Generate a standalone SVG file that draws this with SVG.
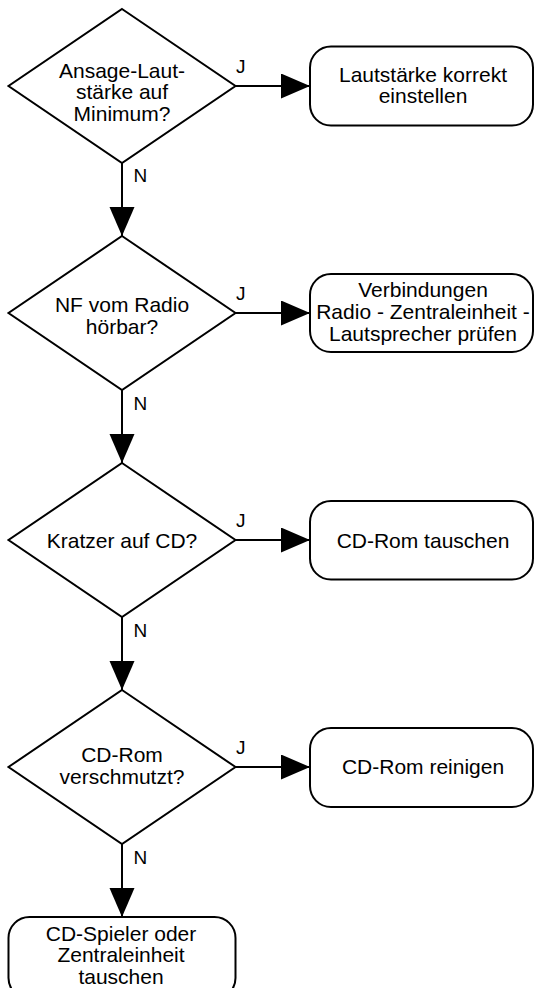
<svg xmlns="http://www.w3.org/2000/svg" width="534" height="988" viewBox="0 0 534 988">
<defs>
<style>
.shape{fill:#fff;stroke:#000;stroke-width:2;stroke-linejoin:miter}
.t{font-family:"Liberation Sans",Arial,sans-serif;font-size:21px;fill:#000;text-anchor:middle}
.lbl{font-family:"Liberation Sans",Arial,sans-serif;font-size:19px;fill:#000}
.con{stroke:#000;stroke-width:2;fill:none;marker-end:url(#ah)}
</style>
<marker id="ah" markerUnits="userSpaceOnUse" markerWidth="30" markerHeight="26" refX="29" refY="12.5" orient="auto">
<path d="M0,0 L29,12.5 L0,25 z" fill="#000"/>
</marker>
</defs>
<rect width="534" height="988" fill="#fff"/>
<g id="connectors">
<line class="con" x1="235.5" y1="86" x2="310" y2="86"/>
<line class="con" x1="235.5" y1="313" x2="310" y2="313"/>
<line class="con" x1="235.5" y1="540" x2="310" y2="540"/>
<line class="con" x1="235.5" y1="767" x2="310" y2="767"/>
<line class="con" x1="122" y1="163" x2="122" y2="236"/>
<line class="con" x1="122" y1="390" x2="122" y2="463"/>
<line class="con" x1="122" y1="617" x2="122" y2="690"/>
<line class="con" x1="122" y1="844" x2="122" y2="917"/>
<text class="lbl" x="236" y="72.5">J</text>
<text class="lbl" x="236" y="299.5">J</text>
<text class="lbl" x="236" y="526.5">J</text>
<text class="lbl" x="236" y="753.5">J</text>
<text class="lbl" x="133.5" y="182">N</text>
<text class="lbl" x="133.5" y="409.5">N</text>
<text class="lbl" x="133.5" y="636.5">N</text>
<text class="lbl" x="133.5" y="863.5">N</text>
</g>
<g id="d1">
<polygon class="shape" points="122,9 235.5,86 122,163 8.5,86"/>
<text class="t" x="122" y="77.5">Ansage-Laut-</text>
<text class="t" x="122" y="99">stärke auf</text>
<text class="t" x="122" y="120.5">Minimum?</text>
</g>
<g id="b1">
<rect class="shape" x="310" y="46.5" width="223" height="79" rx="21"/>
<text class="t" x="423" y="81.5">Lautstärke korrekt</text>
<text class="t" x="423" y="102.5">einstellen</text>
</g>
<g id="d2">
<polygon class="shape" points="122,236 235.5,313 122,390 8.5,313"/>
<text class="t" x="122" y="312">NF vom Radio</text>
<text class="t" x="122" y="333.5">hörbar?</text>
</g>
<g id="b2">
<rect class="shape" x="310" y="274" width="223" height="78" rx="21"/>
<text class="t" x="423" y="296.5">Verbindungen</text>
<text class="t" x="423" y="318.5">Radio - Zentraleinheit -</text>
<text class="t" x="423" y="340.5">Lautsprecher prüfen</text>
</g>
<g id="d3">
<polygon class="shape" points="122,463 235.5,540 122,617 8.5,540"/>
<text class="t" x="122" y="547.5">Kratzer auf CD?</text>
</g>
<g id="b3">
<rect class="shape" x="310" y="501" width="223" height="78.5" rx="21"/>
<text class="t" x="423" y="547.5">CD-Rom tauschen</text>
</g>
<g id="d4">
<polygon class="shape" points="122,690 235.5,767 122,844 8.5,767"/>
<text class="t" x="122" y="762">CD-Rom</text>
<text class="t" x="122" y="784">verschmutzt?</text>
</g>
<g id="b4">
<rect class="shape" x="310" y="728" width="223" height="79" rx="21"/>
<text class="t" x="423" y="773.5">CD-Rom reinigen</text>
</g>
<g id="b5">
<rect class="shape" x="8.5" y="917" width="227" height="82" rx="21"/>
<text class="t" x="121" y="940.5">CD-Spieler oder</text>
<text class="t" x="121" y="962">Zentraleinheit</text>
<text class="t" x="121" y="983.5">tauschen</text>
</g>
</svg>
